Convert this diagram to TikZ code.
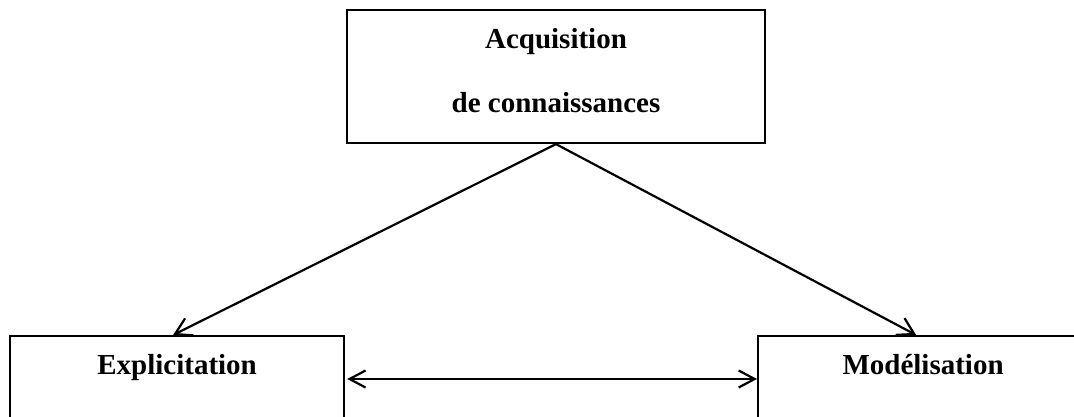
\documentclass[tikz,border=0pt]{standalone}
\usepackage{fontspec}
\setmainfont{Liberation Serif}
\usetikzlibrary{positioning,arrows.meta}

\begin{document}
\begin{tikzpicture}
        [x=1pt, y=-1pt,
        every node/.style={draw, rectangle, line width=2.2pt,
        font=\fontsize{29}{64}\selectfont\bfseries, align=center},
        flow/.style={line width=2.2pt, -{Straight Barb[length=16pt,width=19pt]}},
        both/.style={line width=2.2pt, {Straight Barb[length=16pt,width=17pt]}-{Straight Barb[length=16pt,width=17pt]}}]
        \useasboundingbox (0,0) rectangle (1074,416);
        \clip (0,0) rectangle (1074,416);
        \node (acq) [minimum width=418pt, minimum height=133pt, text depth=13pt]
            at (556,76.5) {Acquisition\\de connaissances};
        \node (expl) [anchor=north west, minimum width=334pt, text height=20pt,
            inner ysep=18pt, text depth=100pt] at (9,335) {Explicitation};
        \node (model) [anchor=north west, minimum width=330pt, text height=20pt,
            inner ysep=18pt, text depth=100pt] at (757,335) {Modélisation};
        \draw[flow] (acq.south) -- ([xshift=-4pt]expl.north);
        \draw[flow] (acq.south) -- ([xshift=-7pt]model.north);
        \draw[both] ([yshift=-44pt,xshift=2pt]expl.north east) -- ([yshift=-44pt]model.north west);
\end{tikzpicture}
\end{document}
